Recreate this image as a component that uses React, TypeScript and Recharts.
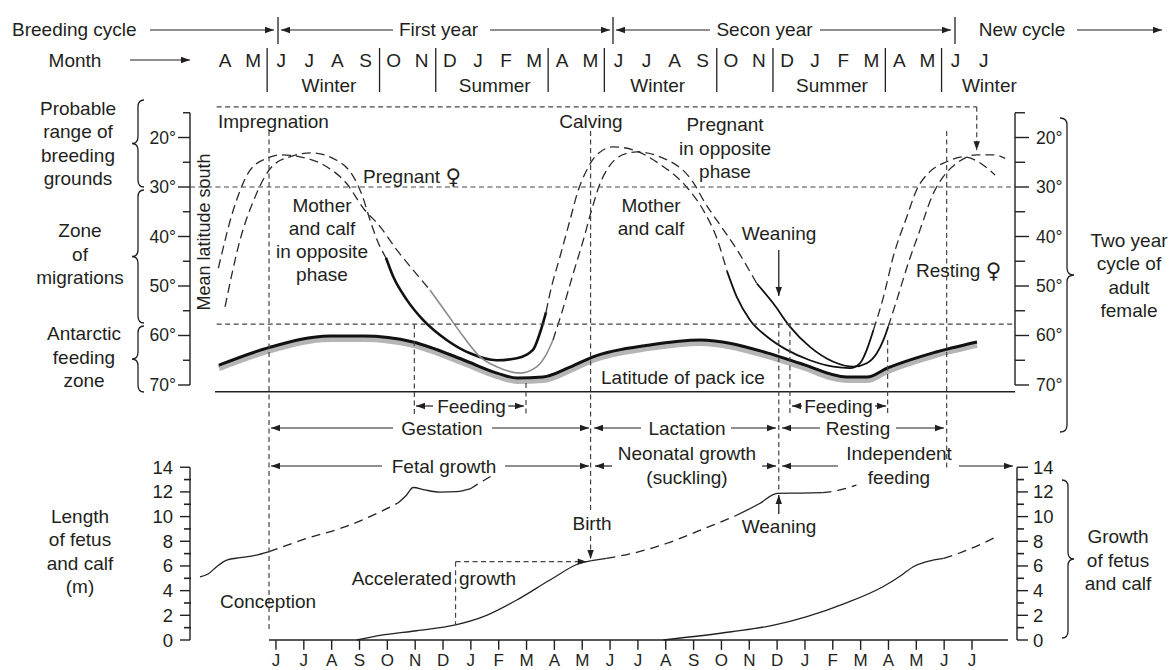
import React from "react";
import { ComposedChart, Line, XAxis, YAxis, ReferenceLine, ReferenceDot } from "recharts";

const W = 1171;
const H = 670;
const FONT = "'Liberation Sans', Arial, Helvetica, sans-serif";
const SYMBOL_FONT = "'DejaVu Sans', 'Liberation Sans', sans-serif";
const INK = "#231f20";
const GUIDE = "#444444";

// ---------- axis domains (month index t: 0 = April of first year) ----------
const T_DOMAIN: [number, number] = [-7.913, 34.148];
const H_DOMAIN: [number, number] = [-8.007, 33.665];
const LAT_DOMAIN: [number, number] = [-7.778, 127.576];
const LAT_SHADOW_DOMAIN: [number, number] = [-8.378, 126.976];
const LEN_DOMAIN: [number, number] = [-2.431, 51.864];

// ---------- data ----------
const headerMonths = ["A", "M", "J", "J", "A", "S", "O", "N", "D", "J", "F", "M", "A", "M", "J", "J", "A", "S", "O", "N", "D", "J", "F", "M", "A", "M", "J", "J"];
const monthBreaks = [1.5, 5.5, 7.5, 11.5, 13.5, 17.5, 19.5, 23.5, 25.5];
const seasons = [
  { name: "Winter", at: 3.7 },
  { name: "Summer", at: 9.6 },
  { name: "Winter", at: 15.4 },
  { name: "Summer", at: 21.6 },
  { name: "Winter", at: 27.2 },
];
const axisMonths = ["J", "J", "A", "S", "O", "N", "D", "J", "F", "M", "A", "M", "J", "J", "A", "S", "O", "N", "D", "J", "F", "M", "A", "M", "J", "J"];
const AXIS_FIRST_MONTH = 2;
const latMajor = [20, 30, 40, 50, 60, 70];
const latMinor = [15, 25, 35, 45, 55, 65];
const lenMajor = [0, 2, 4, 6, 8, 10, 12, 14];
const lenMinor = [1, 3, 5, 7, 9, 11, 13];

const zone = { breedingTop: 13.8, breedingBottom: 30, feedingTop: 57.7, base: 71.35 };
const ev = {
  impregnation: 1.75,
  feed1Start: 6.97,
  feed1End: 10.98,
  accel: 8.45,
  calving: 13.3,
  weaning: 20.06,
  feed2Start: 20.46,
  feed2End: 23.97,
  restEnd: 26.09,
  newCycle: 27.17,
};
const accelLen = 6.35;
const accelStartLen = 1.22;

type Pt = [number, number];

// latitude of pack ice
const packIce: Pt[] = [[-0.05, 66.0], [1.71, 62.5], [3.94, 60.1], [5.13, 60.1], [6.92, 61.3], [8.72, 64.9], [9.94, 67.6], [10.66, 68.6], [11.59, 68.4], [12.56, 66.4], [13.39, 64.3], [15.43, 61.9], [17.23, 60.9], [19.64, 63.5], [20.82, 65.6], [22.51, 68.4], [23.23, 68.4], [23.95, 66.6], [25.6, 63.5], [27.18, 61.3]];

// whale A (mean latitude)
const aDash1: Pt[] = [[0.17, 54.2], [0.71, 40.7], [1.25, 32.0], [1.85, 25.9], [2.5, 23.9], [3.28, 23.1], [4.18, 24.6], [4.78, 27.9], [5.09, 31.6], [5.38, 36.7], [5.66, 41.1], [5.95, 44.3]];
const aBlack1: Pt[] = [[5.95, 44.3], [6.21, 48.1], [6.7, 52.8], [7.29, 56.9], [8.13, 60.9], [8.97, 63.6], [9.93, 65.0], [10.65, 64.6], [11.23, 62.9], [11.48, 59.5], [11.7, 55.3]];
const aDash2: Pt[] = [[11.7, 55.3], [11.84, 51.5], [12.2, 44.1], [12.56, 36.7], [12.86, 30.6], [13.16, 26.6], [13.52, 23.5], [14.12, 21.9], [14.83, 22.5], [15.79, 25.4], [16.75, 30.0], [17.34, 34.6], [17.83, 40.3], [18.2, 47.0]];
const aBlack2: Pt[] = [[18.2, 47.0], [18.55, 52.2], [19.03, 56.9], [19.63, 60.2], [20.35, 62.9], [21.18, 65.0], [22.02, 66.3], [22.62, 66.6], [22.98, 65.6], [23.22, 62.9], [23.46, 58.9]];
const aDash3: Pt[] = [[23.46, 58.9], [23.82, 52.2], [24.17, 44.1], [24.66, 36.0], [25.01, 30.6], [25.49, 26.9], [26.09, 24.9], [26.69, 23.9], [27.41, 25.6], [27.83, 27.6]];

// whale B (mean latitude)
const bDash1: Pt[] = [[-0.07, 46.4], [0.47, 34.6], [1.07, 26.6], [1.67, 24.2], [2.14, 23.5], [2.86, 23.9], [3.82, 25.9], [4.54, 29.3], [5.14, 34.3], [5.74, 38.0], [6.34, 42.7], [6.93, 46.8], [7.53, 50.8]];
const bGrey: Pt[] = [[7.53, 50.8], [8.13, 55.5], [8.73, 60.2], [9.33, 64.3], [9.93, 66.3], [10.77, 67.6], [11.37, 66.3], [11.7, 63.9], [11.95, 60.9]];
const bDash2: Pt[] = [[11.95, 60.9], [12.27, 55.3], [12.68, 47.4], [13.04, 40.7], [13.34, 34.6], [13.64, 29.3], [14.0, 25.6], [14.6, 23.2], [14.96, 22.9], [15.79, 23.9], [16.98, 29.0], [17.41, 33.2], [17.88, 37.1], [18.56, 42.7], [19.27, 49.5]];
const bBlack2: Pt[] = [[19.27, 49.5], [19.86, 53.5], [20.46, 58.2], [21.18, 62.3], [22.02, 65.3], [22.74, 66.3], [23.22, 65.6], [23.58, 63.6], [23.82, 60.9], [23.99, 58.2]];
const bDash3: Pt[] = [[23.99, 58.2], [24.3, 52.8], [24.71, 45.4], [25.13, 38.7], [25.61, 31.3], [25.97, 27.9], [26.45, 25.2], [27.17, 23.5], [27.77, 23.5], [28.19, 24.2]];

// length (m)
const adultSolid1: Pt[] = [[-0.73, 5.11], [-0.44, 5.35], [-0.13, 5.94], [0.23, 6.48], [0.71, 6.67], [1.25, 6.85], [1.75, 7.16]];
const adultDash1: Pt[] = [[1.75, 7.16], [2.86, 8.05], [4.66, 9.32], [5.73, 10.37], [6.38, 11.1]];
const adultSolid2: Pt[] = [[6.38, 11.1], [6.66, 11.67], [6.93, 12.36], [7.35, 12.16], [7.89, 11.99], [8.49, 12.02], [8.97, 12.24]];
const adultDash2: Pt[] = [[8.97, 12.24], [9.45, 12.91], [9.87, 13.45]];
const fetus1: Pt[] = [[4.9, 0], [5.85, 0.41], [7.05, 0.75], [8.45, 1.22], [9.45, 1.89], [10.65, 3.24], [11.84, 4.86], [12.92, 6.22], [13.34, 6.43]];
const calfSolid1: Pt[] = [[13.34, 6.43], [13.87, 6.62]];
const calfDash1: Pt[] = [[13.87, 6.62], [14.82, 7.03], [16.04, 7.84], [17.41, 9.05], [18.49, 10.05]];
const calfSolid2: Pt[] = [[18.49, 10.05], [19.39, 11.08], [20.0, 11.89], [20.83, 11.91], [21.63, 11.94]];
const calfDash2: Pt[] = [[21.63, 11.94], [22.26, 12.16], [22.85, 12.56]];
const fetus2: Pt[] = [[15.91, 0], [18.36, 0.67], [19.92, 1.22], [21.07, 1.89], [22.44, 2.97], [23.8, 4.32], [24.48, 5.27], [24.89, 5.94], [25.98, 6.62]];
const fetus2Dash: Pt[] = [[25.98, 6.62], [26.53, 7.03], [27.89, 8.37]];

// ---------- drawing helpers ----------
type LineOpts = { color?: string; width?: number; dash?: string; headEnd?: boolean; headStart?: boolean };
const DASH = "5 3.5";

function head(x1: number, y1: number, x2: number, y2: number, color: string) {
  const dx = x2 - x1;
  const dy = y2 - y1;
  const len = Math.hypot(dx, dy) || 1;
  const ux = dx / len;
  const uy = dy / len;
  const L = 9;
  const Wd = 3.2;
  const bx = x2 - ux * L;
  const by = y2 - uy * L;
  const nx = -uy;
  const ny = ux;
  return <polygon points={`${x2},${y2} ${bx + nx * Wd},${by + ny * Wd} ${bx - nx * Wd},${by - ny * Wd}`} fill={color} />;
}

const lineShape = (o: LineOpts) => (p: any) => {
  const { x1, y1, x2, y2 } = p;
  const c = o.color ?? INK;
  return (
    <g>
      <line x1={x1} y1={y1} x2={x2} y2={y2} stroke={c} strokeWidth={o.width ?? 1.2} strokeDasharray={o.dash} />
      {o.headEnd ? head(x1, y1, x2, y2, INK) : null}
      {o.headStart ? head(x2, y2, x1, y1, INK) : null}
    </g>
  );
};

const braceShape = (w: number) => (p: any) => {
  const { x1, y1, y2 } = p;
  const x = x1;
  const top = Math.min(y1, y2);
  const bot = Math.max(y1, y2);
  const m = (top + bot) / 2;
  const r = 7;
  const h = w / 2;
  const d = `M ${x} ${top} Q ${x + h} ${top} ${x + h} ${top + r} L ${x + h} ${m - r} Q ${x + h} ${m} ${x + w} ${m} Q ${x + h} ${m} ${x + h} ${m + r} L ${x + h} ${bot - r} Q ${x + h} ${bot} ${x} ${bot}`;
  return <path d={d} fill="none" stroke={INK} strokeWidth={1.3} />;
};

function renderLine(l: string, size: number) {
  if (!l.includes("♀")) return l;
  const parts = l.split("♀");
  return (
    <>
      {parts[0]}
      <tspan fontFamily={SYMBOL_FONT} fontSize={size * 1.12} fill={INK} dominantBaseline="central">
        ♀
      </tspan>
      {parts[1]}
    </>
  );
}

function TextBlock({ cx, cy, lines, anchor = "middle", size = 19, lh = 23.3, rotate = 0 }: any) {
  const n = lines.length;
  const y0 = cy - ((n - 1) * lh) / 2;
  return (
    <text textAnchor={anchor} fontFamily={FONT} fontSize={size} fill={INK} transform={rotate ? `rotate(${rotate} ${cx} ${cy})` : undefined}>
      {lines.map((l: string, i: number) => (
        <tspan key={i} x={cx} y={y0 + i * lh} dominantBaseline="central">
          {renderLine(l, size)}
        </tspan>
      ))}
    </text>
  );
}

function buildAnnotations() {
  const els: React.ReactElement[] = [];
  let k = 0;
  const K = () => `a${k++}`;
  const seg = (xa: string, ya: string, a: Pt, b: Pt, o: LineOpts = {}) =>
    els.push(
      <ReferenceLine key={K()} xAxisId={xa} yAxisId={ya} segment={[{ x: a[0], y: a[1] }, { x: b[0], y: b[1] }]} ifOverflow="visible" shape={lineShape(o)} />
    );
  const txt = (xa: string, ya: string, x: number, y: number, lines: string | string[], o: any = {}) =>
    els.push(
      <ReferenceDot
        key={K()}
        xAxisId={xa}
        yAxisId={ya}
        x={x}
        y={y}
        r={1}
        ifOverflow="visible"
        shape={(p: any) => <TextBlock cx={p.cx} cy={p.cy} lines={Array.isArray(lines) ? lines : [lines]} {...o} />}
      />
    );
  const brace = (x: number, y1: number, y2: number, w: number) =>
    els.push(
      <ReferenceLine key={K()} xAxisId="px" yAxisId="py" segment={[{ x, y: y1 }, { x, y: y2 }]} ifOverflow="visible" shape={braceShape(w)} />
    );

  // ----- header -----
  txt("px", "py", 12, 29, "Breeding cycle", { anchor: "start" });
  seg("px", "py", [150, 30], [274, 30], { headEnd: true });
  seg("px", "py", [278, 17], [278, 44], { width: 1.3 });
  seg("px", "py", [393, 30], [281, 30], { headEnd: true });
  txt("px", "py", 438.5, 29, "First year");
  seg("px", "py", [490, 30], [610, 30], { headEnd: true });
  seg("px", "py", [613, 17], [613, 44], { width: 1.3 });
  seg("px", "py", [710, 30], [616, 30], { headEnd: true });
  txt("px", "py", 764.5, 29, "Secon year");
  seg("px", "py", [820, 30], [951, 30], { headEnd: true });
  seg("px", "py", [955, 17], [955, 44], { width: 1.3 });
  txt("px", "py", 1022, 29, "New cycle");
  seg("px", "py", [1077, 30], [1162, 30], { headEnd: true });

  txt("px", "py", 75, 60, "Month");
  seg("px", "py", [130, 60], [190, 60], { headEnd: true });
  headerMonths.forEach((m, i) => txt("h", "py", i, 60, m));
  monthBreaks.forEach((b) => seg("h", "py", [b, 48], [b, 92], { width: 1.3 }));
  seasons.forEach((s) => txt("h", "py", s.at, 85, s.name));

  // ----- side labels -----
  txt("px", "py", 78, 143.5, ["Probable", "range of", "breeding", "grounds"]);
  txt("px", "py", 80, 254, ["Zone", "of", "migrations"]);
  txt("px", "py", 84, 357, ["Antarctic", "feeding", "zone"]);
  txt("px", "py", 80, 551.5, ["Length", "of fetus", "and calf", "(m)"]);
  brace(144, 100, 187, -12);
  brace(144, 190, 323, -12);
  brace(144, 326, 392, -12);
  txt("px", "py", 1129, 275.5, ["Two year", "cycle of", "adult", "female"]);
  txt("px", "py", 1118, 560, ["Growth", "of fetus", "and calf"]);
  brace(1060, 118, 432, 14);
  brace(1062, 480, 638, 12);

  // ----- latitude axes -----
  seg("px", "lat", [190, 15], [190, 70], { width: 1.4 });
  seg("px", "lat", [1015, 15], [1015, 70], { width: 1.4 });
  latMinor.forEach((v) => {
    seg("px", "lat", [183, v], [190, v], { width: 1.4 });
    seg("px", "lat", [1015, v], [1025, v], { width: 1.4 });
  });
  latMajor.forEach((v) => {
    seg("px", "lat", [178, v], [190, v], { width: 1.4 });
    seg("px", "lat", [1015, v], [1029, v], { width: 1.4 });
    txt("px", "lat", 176, v, `${v}°`, { anchor: "end", size: 17.5 });
    txt("px", "lat", 1036, v, `${v}°`, { anchor: "start", size: 17.5 });
  });
  txt("px", "py", 204, 232, "Mean latitude south", { rotate: -90, size: 18 });

  // ----- length axes -----
  seg("px", "len", [190, 0], [190, 14], { width: 1.4 });
  seg("px", "len", [1017, 0], [1017, 14], { width: 1.4 });
  lenMinor.forEach((v) => {
    seg("px", "len", [184, v], [191, v], { width: 1.6 });
    seg("px", "len", [1017, v], [1024, v], { width: 1.6 });
  });
  lenMajor.forEach((v) => {
    seg("px", "len", [180, v], [190, v], { width: 1.4 });
    seg("px", "len", [1017, v], [1028, v], { width: 1.4 });
    txt("px", "len", 173, v, `${v}`, { anchor: "end", size: 18.5 });
    txt("px", "len", 1033, v, `${v}`, { anchor: "start", size: 18.5 });
  });

  // ----- month axis (bottom) -----
  seg("t", "len", [ev.impregnation, 0], [28.29, 0], { width: 1.6 });
  axisMonths.forEach((m, i) => {
    const t = AXIS_FIRST_MONTH + i;
    seg("t", "len", [t, 0], [t, -0.8], { width: 1.4 });
    txt("t", "py", t, 660, m, { size: 17 });
  });

  // ----- zone guides -----
  seg("t", "lat", [-0.13, zone.breedingTop], [ev.newCycle, zone.breedingTop], { dash: DASH, color: GUIDE });
  seg("t", "lat", [ev.newCycle, zone.breedingTop], [ev.newCycle, 22.6], { dash: DASH, color: GUIDE, headEnd: true });
  seg("t", "lat", [-1.09, zone.breedingBottom], [28.55, zone.breedingBottom], { dash: DASH, color: GUIDE });
  seg("t", "lat", [-0.13, zone.feedingTop], [28.55, zone.feedingTop], { dash: DASH, color: GUIDE });
  seg("t", "lat", [-0.19, zone.base], [28.55, zone.base], { width: 1.6 });

  // ----- event lines -----
  seg("t", "py", [ev.impregnation, 131], [ev.impregnation, 632], { dash: DASH, color: GUIDE });
  seg("t", "py", [ev.calving, 131], [ev.calving, 510], { dash: DASH, color: GUIDE });
  seg("t", "py", [ev.calving, 536], [ev.calving, 559], { dash: DASH, color: GUIDE, headEnd: true });
  seg("t", "py", [ev.restEnd, 131], [ev.restEnd, 470], { dash: DASH, color: GUIDE });
  seg("t", "py", [ev.feed1Start, 324], [ev.feed1Start, 414], { dash: DASH, color: GUIDE });
  seg("t", "py", [ev.feed1End, 383], [ev.feed1End, 414], { dash: DASH, color: GUIDE });
  seg("t", "py", [ev.weaning, 323], [ev.weaning, 493], { dash: DASH, color: GUIDE });
  seg("t", "py", [ev.feed2Start, 323], [ev.feed2Start, 413], { dash: DASH, color: GUIDE });
  seg("t", "py", [ev.feed2End, 340], [ev.feed2End, 413], { dash: DASH, color: GUIDE });
  seg("t", "len", [ev.accel, accelLen], [ev.accel, accelStartLen], { dash: DASH, color: GUIDE });
  seg("t", "len", [ev.accel, accelLen], [13.16, accelLen], { dash: DASH, color: GUIDE, headEnd: true });
  seg("t", "py", [ev.weaning, 250], [ev.weaning, 296], { headEnd: true, width: 1.3 });
  seg("t", "py", [ev.weaning, 514], [ev.weaning, 495], { headEnd: true, width: 1.3 });

  // ----- phase rows -----
  seg("px", "py", [433, 406], [416, 406], { headEnd: true });
  txt("px", "py", 471.5, 406, "Feeding");
  seg("px", "py", [508, 406], [524, 406], { headEnd: true });
  seg("px", "py", [802, 406], [792, 406], { headEnd: true });
  txt("px", "py", 838.5, 406, "Feeding");
  seg("px", "py", [875, 406], [886, 406], { headEnd: true });

  seg("px", "py", [393, 428], [271, 428], { headEnd: true });
  txt("px", "py", 442, 428, "Gestation");
  seg("px", "py", [492, 428], [589, 428], { headEnd: true });
  seg("px", "py", [641, 428], [594, 428], { headEnd: true });
  txt("px", "py", 687, 428, "Lactation");
  seg("px", "py", [731, 428], [776, 428], { headEnd: true });
  seg("px", "py", [820, 428], [782, 428], { headEnd: true });
  txt("px", "py", 858, 428, "Resting");
  seg("px", "py", [896, 428], [944, 428], { headEnd: true });

  seg("px", "py", [382, 466], [271, 466], { headEnd: true });
  txt("px", "py", 444, 466, "Fetal growth");
  seg("px", "py", [505, 466], [589, 466], { headEnd: true });
  seg("px", "py", [612, 466], [595, 466], { headEnd: true });
  txt("px", "py", 687, 465, ["Neonatal growth", "(suckling)"], { lh: 24 });
  seg("px", "py", [762, 466], [776, 466], { headEnd: true });
  seg("px", "py", [838, 466], [782, 466], { headEnd: true });
  txt("px", "py", 899, 465, ["Independent", "feeding"], { lh: 24 });
  seg("px", "py", [959, 466], [1013, 466], { headEnd: true });

  // ----- panel labels -----
  txt("px", "py", 218, 121, "Impregnation", { anchor: "start" });
  txt("px", "py", 591, 121, "Calving");
  txt("px", "py", 725, 148, ["Pregnant", "in opposite", "phase"]);
  txt("px", "py", 363, 176, "Pregnant ♀", { anchor: "start" });
  txt("px", "py", 322, 240, ["Mother", "and calf", "in opposite", "phase"]);
  txt("px", "py", 651, 217, ["Mother", "and calf"]);
  txt("px", "py", 779, 233, "Weaning");
  txt("px", "py", 916, 270, "Resting ♀", { anchor: "start" });
  txt("px", "py", 601, 377, "Latitude of pack ice", { anchor: "start" });

  txt("px", "py", 592, 523, "Birth");
  txt("px", "py", 779, 526, "Weaning");
  txt("px", "py", 452, 578, "Accelerated", { anchor: "end" });
  txt("px", "py", 459, 578, "growth", { anchor: "start" });
  txt("px", "py", 268, 601, "Conception");

  return els;
}

type CurveOpts = { color: string; width: number; dash?: string; axis: string };
function curve(id: string, pts: Pt[], o: CurveOpts) {
  return (
    <Line
      key={id}
      data={pts.map(([t, v]) => ({ t, v }))}
      dataKey="v"
      xAxisId="t"
      yAxisId={o.axis}
      type="monotone"
      stroke={o.color}
      strokeWidth={o.width}
      strokeDasharray={o.dash}
      dot={false}
      activeDot={false}
      isAnimationActive={false}
      legendType="none"
    />
  );
}

const CDASH = "9 5";
const dashed: CurveOpts = { color: "#2a2a2a", width: 1.3, dash: CDASH, axis: "lat" };
const black1: CurveOpts = { color: "#111", width: 2.6, axis: "lat" };
const black2: CurveOpts = { color: "#111", width: 1.8, axis: "lat" };
const grey: CurveOpts = { color: "#8c8c8c", width: 1.6, axis: "lat" };
const lenSolid: CurveOpts = { color: "#222", width: 1.3, axis: "len" };
const lenDash: CurveOpts = { color: "#222", width: 1.3, dash: "9 6", axis: "len" };

export default function App() {
  return (
    <div style={{ position: "absolute", left: 0, top: 0, width: W, height: H, background: "#fff" }}>
      <ComposedChart width={W} height={H} margin={{ top: 0, right: 0, bottom: 0, left: 0 }}>
        <XAxis xAxisId="t" type="number" dataKey="t" domain={T_DOMAIN} allowDataOverflow hide />
        <XAxis xAxisId="h" type="number" dataKey="t" domain={H_DOMAIN} allowDataOverflow hide />
        <XAxis xAxisId="px" type="number" dataKey="t" domain={[0, W]} allowDataOverflow hide />
        <YAxis yAxisId="lat" type="number" domain={LAT_DOMAIN} reversed allowDataOverflow hide />
        <YAxis yAxisId="latS" type="number" domain={LAT_SHADOW_DOMAIN} reversed allowDataOverflow hide />
        <YAxis yAxisId="len" type="number" domain={LEN_DOMAIN} allowDataOverflow hide />
        <YAxis yAxisId="py" type="number" domain={[0, H]} reversed allowDataOverflow hide />

        {curve("iceShadow", packIce, { color: "#b5b5b5", width: 6, axis: "latS" })}
        {curve("ice", packIce, { color: "#111", width: 3, axis: "lat" })}

        {curve("aD1", aDash1, dashed)}
        {curve("aB1", aBlack1, black1)}
        {curve("aD2", aDash2, dashed)}
        {curve("aB2", aBlack2, black2)}
        {curve("aD3", aDash3, dashed)}

        {curve("bD1", bDash1, dashed)}
        {curve("bG", bGrey, grey)}
        {curve("bD2", bDash2, dashed)}
        {curve("bB2", bBlack2, black2)}
        {curve("bD3", bDash3, dashed)}

        {curve("adS1", adultSolid1, lenSolid)}
        {curve("adD1", adultDash1, lenDash)}
        {curve("adS2", adultSolid2, lenSolid)}
        {curve("adD2", adultDash2, lenDash)}
        {curve("f1", fetus1, lenSolid)}
        {curve("cS1", calfSolid1, lenSolid)}
        {curve("cD1", calfDash1, lenDash)}
        {curve("cS2", calfSolid2, lenSolid)}
        {curve("cD2", calfDash2, lenDash)}
        {curve("f2", fetus2, lenSolid)}
        {curve("f2D", fetus2Dash, lenDash)}

        {buildAnnotations()}
      </ComposedChart>
    </div>
  );
}
